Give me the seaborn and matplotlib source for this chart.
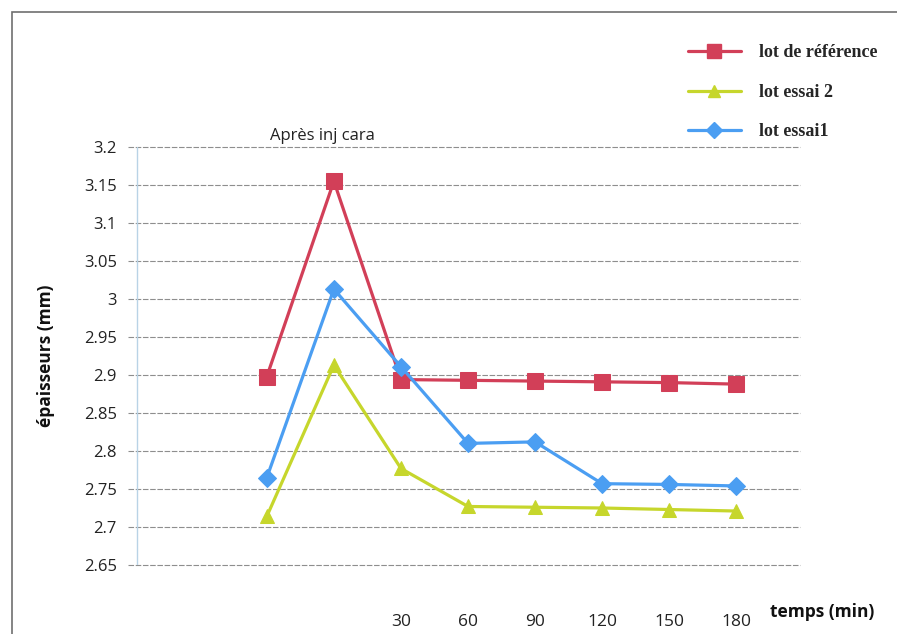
import matplotlib
matplotlib.use("Agg")
import matplotlib.pyplot as plt
import seaborn as sns
import pandas as pd
from matplotlib.lines import Line2D
from matplotlib.patches import Rectangle

# ---- data ----
x_labels = ["", "", "30", "60", "90", "120", "150", "180"]
reference = [2.898, 3.155, 2.894, 2.893, 2.892, 2.891, 2.890, 2.888]
essai2 = [2.714, 2.913, 2.777, 2.727, 2.726, 2.725, 2.723, 2.721]
essai1 = [2.765, 3.013, 2.911, 2.810, 2.812, 2.757, 2.756, 2.754]
series_names = ["lot de référence", "lot essai 2", "lot essai1"]
y_ticks = [2.65, 2.7, 2.75, 2.8, 2.85, 2.9, 2.95, 3.0, 3.05, 3.1, 3.15, 3.2]
y_tick_labels = ["2.65", "2.7", "2.75", "2.8", "2.85", "2.9", "2.95", "3", "3.05", "3.1", "3.15", "3.2"]

colors = ["#d23f58", "#c6d62c", "#4b9ef2"]
markers = ["s", "^", "D"]
msizes = [11, 10, 9]

sns.set_theme(style="white")
plt.rcParams["font.family"] = ["Open Sans", "DejaVu Sans"]

fig = plt.figure(figsize=(8.97, 6.34), dpi=100)
ax = fig.add_axes([128 / 897, 1 - 565 / 634, 672 / 897, 418 / 634])

idx = list(range(len(x_labels)))
df = pd.DataFrame({
    "x": idx * 3,
    "y": reference + essai2 + essai1,
    "s": [series_names[0]] * 8 + [series_names[1]] * 8 + [series_names[2]] * 8,
})

for name, c, m, ms in zip(series_names, colors, markers, msizes):
    sub = df[df["s"] == name]
    sns.lineplot(data=sub, x="x", y="y", ax=ax, color=c, linewidth=2.3,
                 marker=m, markersize=ms, markeredgecolor=c, legend=False)

ax.set_xlim(-2.07, 7.95)
ax.set_ylim(2.65, 3.2)
ax.set_yticks(y_ticks)
ax.set_yticklabels(y_tick_labels, fontsize=12, color="#222222")
ax.set_xticks(idx)
ax.set_xticklabels(x_labels, fontsize=12.5, color="#222222")
ax.tick_params(axis="x", length=0, pad=35)
ax.tick_params(axis="y", length=0, pad=8)
for sp in ax.spines.values():
    sp.set_visible(False)
for yv in y_ticks:
    ax.axhline(yv, color="#8e8e8e", linewidth=0.8, linestyle=(0, (5, 1.5)),
               zorder=0, clip_on=False)
ax.plot([0.013, 0.013], [0, 1], transform=ax.transAxes, color="#b9d3e6", linewidth=1, zorder=0)

ax.set_xlabel("")
ax.set_ylabel("épaisseurs (mm)", fontsize=12.5, fontweight="bold", color="#111111")
ax.yaxis.set_label_coords((55 - 128) / 672, 0.50)

ax.annotate("Après inj cara", xy=(1, 3.2), xytext=(-8, 2), textcoords="offset points",
            ha="center", va="bottom", fontsize=12, color="#222222")

fig.text(822 / 897, 1 - 612 / 634, "temps (min)", ha="center", va="center",
         fontsize=12.5, fontweight="bold", color="#111111")

# legend
handles = [Line2D([0], [0], color=c, marker=m, markersize=ms * 0.9, linewidth=2.3,
                  markeredgecolor=c) for c, m, ms in zip(colors, markers, msizes)]
leg = fig.legend(handles, series_names, loc="upper left",
                 bbox_to_anchor=(672 / 897, 1 - 28 / 634), frameon=False,
                 handlelength=2.9, labelspacing=1.25, handletextpad=1.0,
                 prop={"family": "Liberation Serif", "weight": "bold", "size": 13})

# outer chart border
fig.add_artist(Rectangle((12 / 897, -0.05), 1.0, 1 - 12 / 634 + 0.05,
                         transform=fig.transFigure, fill=False,
                         edgecolor="#6f6f6f", linewidth=1.2))

fig.savefig("out.png", dpi=100)
